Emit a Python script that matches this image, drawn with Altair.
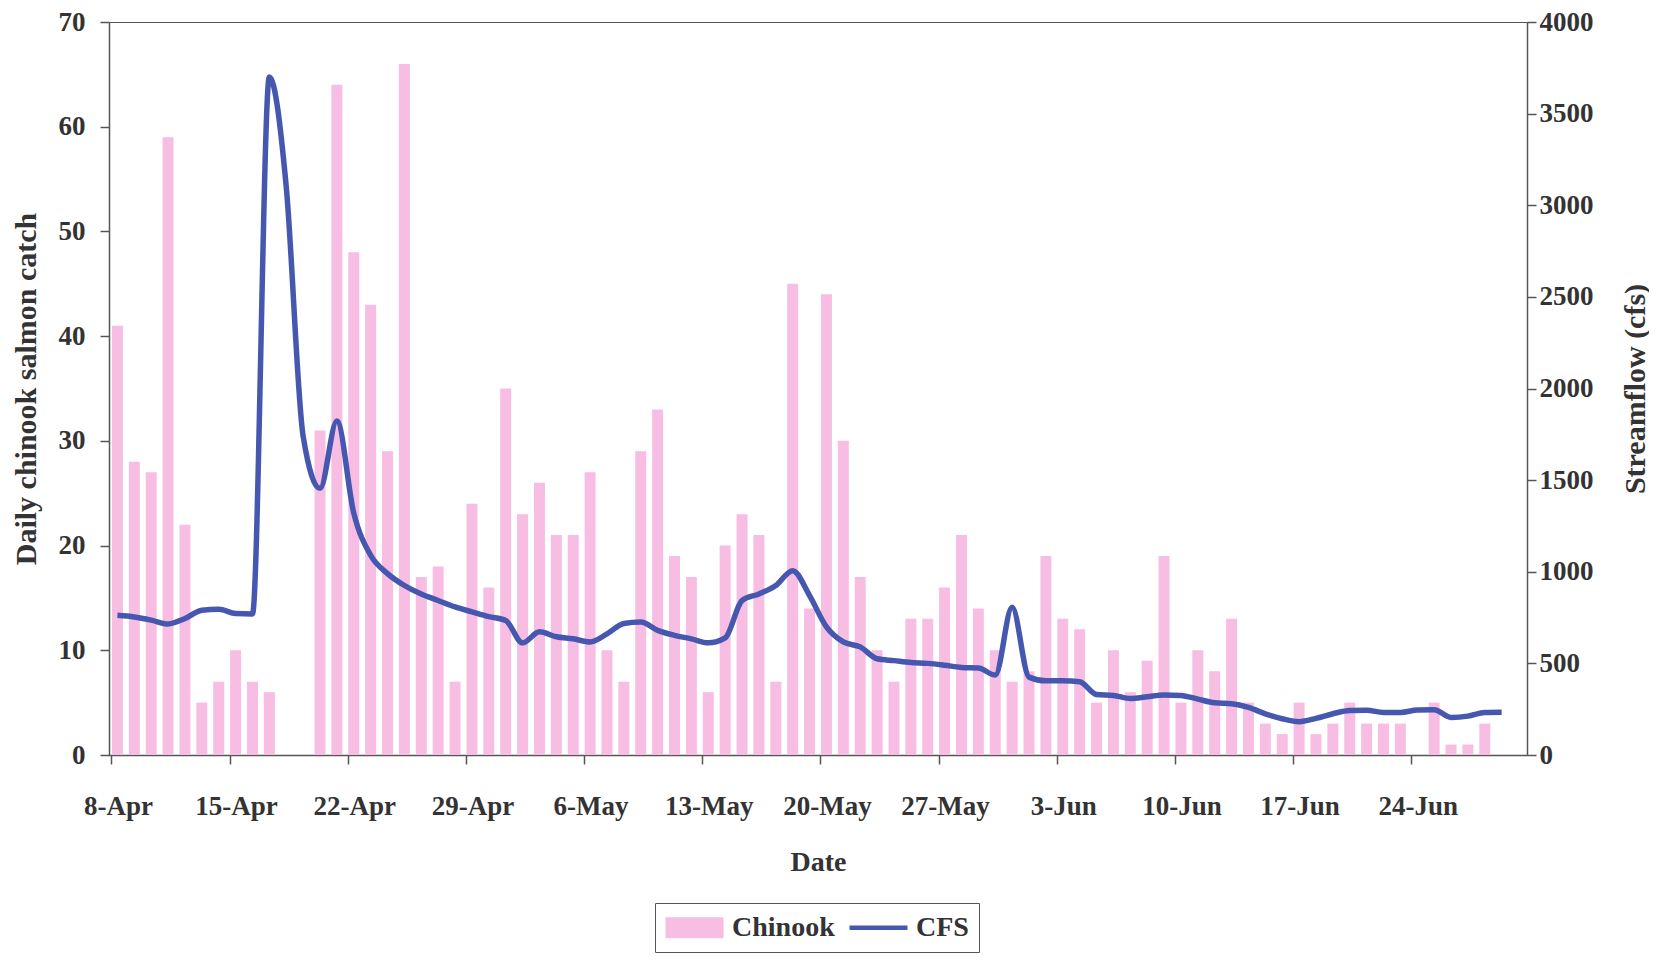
import altair as alt
import pandas as pd

# ---- data ----
dates = [f"{d.day}-{d.strftime('%b')}" for d in pd.date_range("2008-04-08", "2008-06-30")]

chinook = [41, 28, 27, 59, 22, 5, 7, 10, 7, 6,
           0, 0, 31, 64, 48, 43, 29, 66, 17, 18,
           7, 24, 16, 35, 23, 26, 21, 21, 27, 10,
           7, 29, 33, 19, 17, 6, 20, 23, 21, 7,
           45, 14, 44, 30, 17, 10, 7, 13, 13, 16,
           21, 14, 10, 7, 8, 19, 13, 12, 5, 10,
           6, 9, 19, 5, 10, 8, 13, 5, 3, 2,
           5, 2, 3, 5, 3, 3, 3, 0, 5, 1,
           1, 3, 0, 0]

cfs = [762, 753, 736, 715, 745, 790, 795, 772, 770, 3700,
       3100, 1740, 1455, 1822, 1320, 1090, 990, 925, 878, 843,
       808, 781, 755, 734, 612, 672, 645, 634, 617, 661,
       718, 726, 680, 653, 634, 612, 639, 843, 879, 925,
       1006, 870, 699, 617, 590, 525, 515, 505, 500, 490,
       478, 475, 436, 806, 425, 405, 405, 400, 330, 325,
       308, 318, 328, 325, 305, 285, 280, 260, 225, 198,
       182, 200, 225, 243, 244, 232, 232, 245, 247, 205,
       212, 232, 233, None]

tick_labels = ["8-Apr", "15-Apr", "22-Apr", "29-Apr", "6-May", "13-May",
               "20-May", "27-May", "3-Jun", "10-Jun", "17-Jun", "24-Jun"]
left_ticks = [0, 10, 20, 30, 40, 50, 60, 70]
right_ticks = [0, 500, 1000, 1500, 2000, 2500, 3000, 3500, 4000]

series = ["Chinook", "CFS"]
series_colors = ["#f7bde3", "#4657b0"]
series_shapes = ["M-2,-0.72H2V0.72H-2Z", "M-2,-0.15H2V0.15H-2Z"]

df = pd.DataFrame({"date": dates, "chinook": chinook, "cfs": cfs})
legend_df = pd.DataFrame({"series": series})

FONT = "Liberation Serif"
TXT = "#333333"
AX = "#555555"

W, H = 1418, 733

x_enc = alt.X(
    "date:O",
    sort=dates,
    scale=alt.Scale(paddingInner=0.35, paddingOuter=0.175),
    axis=alt.Axis(
        title="Date", values=tick_labels, bandPosition=0, labelOffset=1,
        labelAngle=0, tickSize=9, labelPadding=29, titlePadding=29,
        labelFontSize=27, titleFontSize=28,
    ),
)

bars = alt.Chart(df).mark_bar(color=series_colors[0]).encode(
    x=x_enc,
    y=alt.Y(
        "chinook:Q",
        scale=alt.Scale(domain=[0, 70]),
        axis=alt.Axis(
            title="Daily chinook salmon catch", values=left_ticks, grid=False,
            tickSize=9, labelPadding=15, titlePadding=17,
            labelFontSize=27, titleFontSize=30,
        ),
    ),
)

line = alt.Chart(df).mark_line(
    color=series_colors[1], strokeWidth=5.5, strokeJoin="round", interpolate="monotone"
).encode(
    x=alt.X("date:O", sort=dates),
    y=alt.Y(
        "cfs:Q",
        scale=alt.Scale(domain=[0, 4000]),
        axis=alt.Axis(
            title="Streamflow (cfs)", orient="right", values=right_ticks, grid=False,
            format="d", tickSize=9, labelPadding=3, titlePadding=27, titleAngle=270,
            titleBaseline="top", labelFontSize=27, titleFontSize=30,
        ),
    ),
)

leg_def = alt.Legend(
    title=None, orient="none", legendX=546, legendY=881, direction="horizontal",
    strokeColor=AX, fillColor="white", padding=10,
    labelFont=FONT, labelFontWeight="bold", labelFontSize=28, labelColor=TXT,
    symbolSize=841, symbolStrokeWidth=0, symbolOffset=15, labelOffset=23,
    columnPadding=14,
)

legend_layer = alt.Chart(legend_df).mark_point(filled=True, opacity=1).encode(
    color=alt.Color("series:N", scale=alt.Scale(domain=series, range=series_colors), legend=leg_def),
    shape=alt.Shape("series:N", scale=alt.Scale(domain=series, range=series_shapes), legend=leg_def),
).transform_filter("datum.series == 'none'")

chart = alt.layer(bars, line, legend_layer).resolve_scale(
    y="independent"
).properties(
    width=W, height=H,
    autosize=alt.AutoSizeParams(type="none"),
    padding={"left": 101, "top": 14, "right": 122, "bottom": 200},
    background="white",
).configure_view(
    fill="#e6f8fa", stroke=AX, strokeWidth=1,
).configure_axis(
    labelFont=FONT, labelFontWeight="bold", labelColor=TXT,
    titleFont=FONT, titleFontWeight="bold", titleColor=TXT,
    domainColor=AX, tickColor=AX, domainWidth=1.5, tickWidth=1.5,
)

chart.save("out.html", embed_options={"renderer": "svg", "actions": False})
